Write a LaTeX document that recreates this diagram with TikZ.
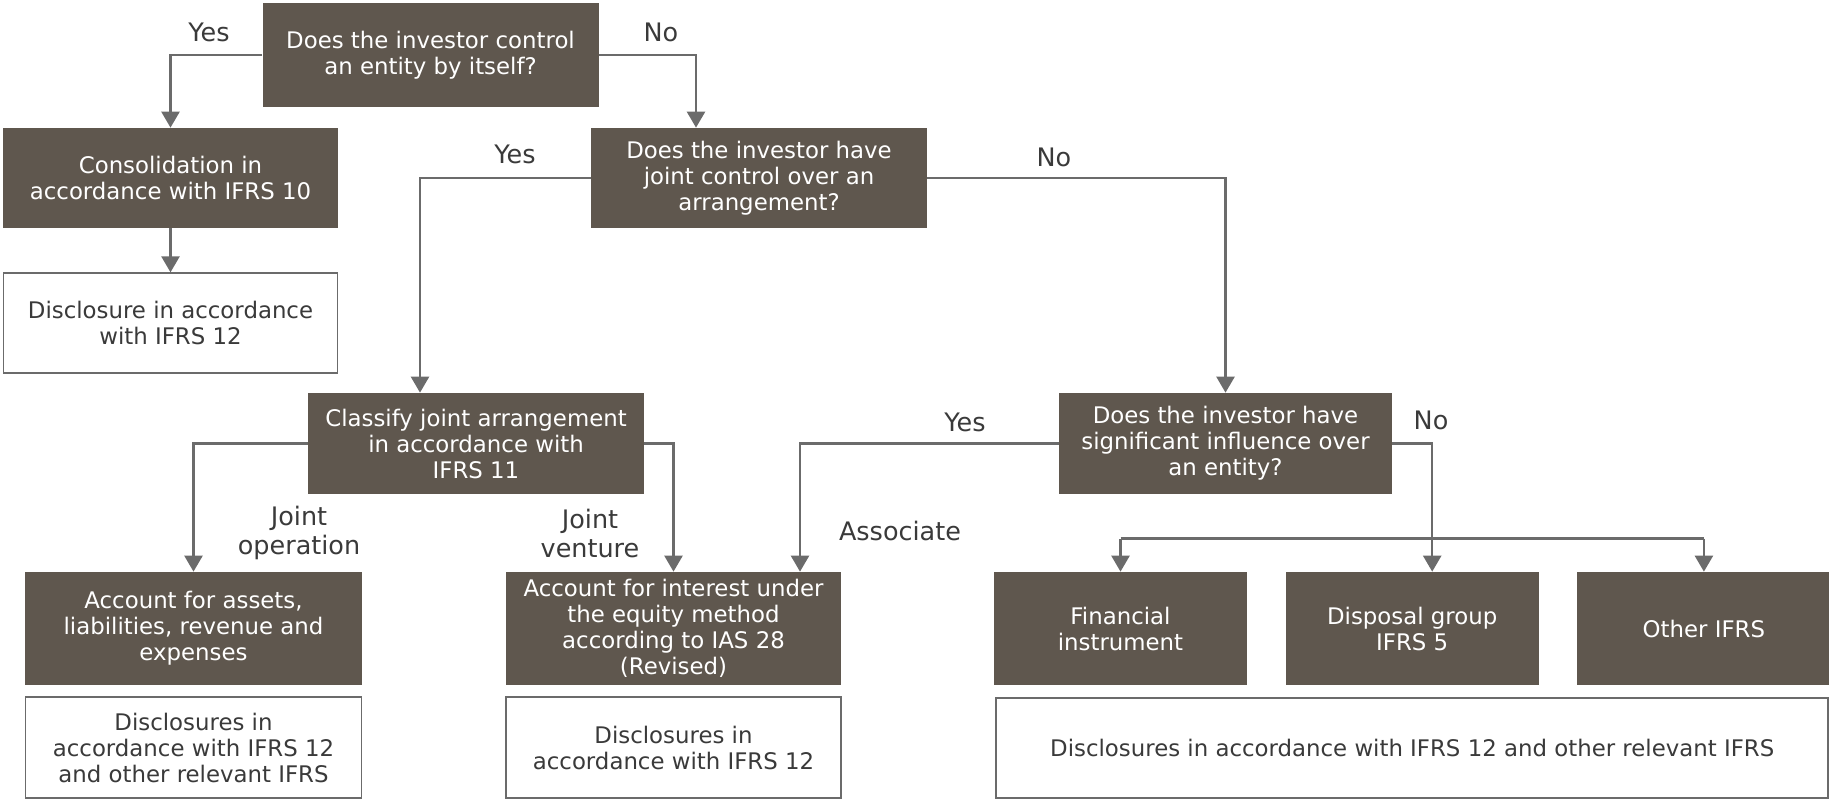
\documentclass[tikz,border=0pt]{standalone}
\usepackage{fontspec}
\setmainfont{DejaVu Sans}
\usepackage{xcolor}
\usepackage{tikz}
\usetikzlibrary{arrows.meta,positioning}

\definecolor{boxbrown}{HTML}{5F574E}
\definecolor{linegray}{HTML}{6B6B6B}
\definecolor{labelgray}{HTML}{3A3A3A}

\begin{document}
\begin{tikzpicture}[
  node distance=0.22cm,
  dark/.style={fill=boxbrown, text=white, align=center, inner sep=2pt, minimum width=6.72cm, minimum height=2cm, font=\fontsize{13}{14.8}\selectfont},
  small/.style={dark, minimum width=5.06cm, minimum height=2.26cm},
  note/.style={draw=linegray, line width=1.1pt, fill=white, text=labelgray, align=center, inner sep=2pt, minimum width=6.68cm, minimum height=2cm, font=\fontsize{13}{14.8}\selectfont},
  answer/.style={text=labelgray, align=center, font=\fontsize{14.5}{16.5}\selectfont},
  line/.style={draw=linegray, line width=1.4pt},
  arrow/.style={line, -{Triangle[width=0.36cm, length=0.32cm]}}
]
\useasboundingbox (0,0) rectangle (36.58,-15.96);
\node[dark, minimum height=2.08cm] (q1) at (8.61,-1.10) {Does the investor control\\an entity by itself?};
\node[dark, minimum width=6.7cm] (cons) at (3.41,-3.56) {Consolidation in\\accordance with IFRS 10};
\node[note, below=0.88cm of cons] (disc1) {Disclosure in accordance\\with IFRS 12};
\node[dark] (q2) at (15.18,-3.56) {Does the investor have\\joint control over an\\arrangement?};
\node[dark, minimum height=2.02cm] (classify) at (9.52,-8.87) {Classify joint arrangement\\in accordance with\\IFRS 11};
\node[dark, minimum width=6.66cm, minimum height=2.02cm] (q3) at (24.51,-8.87) {Does the investor have\\significant influence over\\an entity?};
\node[dark, minimum width=6.74cm, minimum height=2.26cm] (acct1) at (3.87,-12.57) {Account for assets,\\liabilities, revenue and\\expenses};
\node[dark, minimum width=6.7cm, minimum height=2.26cm] (acct2) at (13.47,-12.57) {Account for interest under\\the equity method\\according to IAS 28\\(Revised)};
\node[note, minimum width=6.72cm, minimum height=2.02cm, below=of acct1] (disc2) {Disclosures in\\accordance with IFRS 12\\and other relevant IFRS};
\node[note, minimum width=6.7cm, minimum height=2.02cm, below=of acct2] (disc3) {Disclosures in\\accordance with IFRS 12};
\node[small] (fin) at (22.41,-12.57) {Financial\\instrument};
\node[small, right=0.76cm of fin] (disp) {Disposal group\\IFRS 5};
\node[small, right=0.76cm of disp] (other) {Other IFRS};
\node[note, minimum width=16.64cm, below=0.24cm of disp] (disc4) {Disclosures in accordance with IFRS 12 and other relevant IFRS};
\node[answer] (yes1) at (4.18,-0.64) {Yes};
\node[answer] (no1) at (13.22,-0.64) {No};
\node[answer] (yes2) at (10.30,-3.08) {Yes};
\node[answer] (no2) at (21.08,-3.14) {No};
\node[answer] (yes3) at (19.30,-8.44) {Yes};
\node[answer] (no3) at (28.62,-8.40) {No};
\node[answer] (jop) at (5.98,-10.66) {Joint\\operation};
\node[answer] (jven) at (11.80,-10.66) {Joint\\venture};
\node[answer] (assoc) at (18.00,-10.62) {Associate};
\coordinate[above=0.66cm of fin.north] (busL);
\coordinate[above=0.66cm of other.north] (busR);
\draw[arrow] (q1.west) -| (cons.north);
\draw[arrow] (q1.east) -| ([xshift=-1.26cm]q2.north);
\draw[arrow] (q2.west) -| ([xshift=-1.12cm]classify.north);
\draw[arrow] (q2.east) -| (q3.north);
\draw[arrow] (q3.west) -| ([xshift=2.53cm]acct2.north);
\draw[arrow] (q3.east) -| ([xshift=0.4cm]disp.north);
\draw[line] (busL) -- (busR);
\foreach \x/\y in {cons/disc1,busL/fin,busR/other}
  \draw[arrow] (\x) -- (\y);
\foreach \x/\y in {classify.west/acct1.north,classify.east/acct2.north}
  \draw[arrow] (\x) -| (\y);
\end{tikzpicture}
\end{document}
